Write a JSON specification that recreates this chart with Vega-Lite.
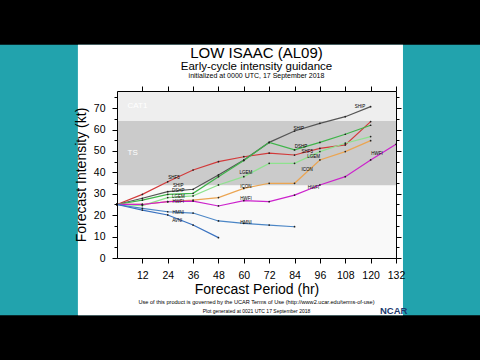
{
  "$schema": "https://vega.github.io/schema/vega-lite/v6.json",
  "width": 279,
  "height": 167,
  "autosize": {"type": "none"},
  "padding": {"left": 117, "top": 91, "right": 84, "bottom": 102},
  "background": "#000000",
  "config": {
    "view": {"stroke": null},
    "font": "Liberation Sans",
    "axis": {
      "grid": false,
      "domainColor": "#000000", "domainWidth": 1,
      "tickColor": "#000000", "tickWidth": 1,
      "labelFont": "Liberation Sans", "labelFontSize": 10.5, "labelColor": "#000000",
      "labelOverlap": false, "labelBound": false, "labelFlush": false,
      "titleFont": "Liberation Sans", "titleFontSize": 14, "titleFontWeight": "normal", "titleColor": "#000000"
    }
  },
  "datasets": {
    "forecasts": [
      {"model": "SHF5", "hour": 0, "kt": 25}, {"model": "SHF5", "hour": 12, "kt": 29.7}, {"model": "SHF5", "hour": 24, "kt": 35.6}, {"model": "SHF5", "hour": 36, "kt": 41.1}, {"model": "SHF5", "hour": 48, "kt": 45}, {"model": "SHF5", "hour": 60, "kt": 47.3}, {"model": "SHF5", "hour": 72, "kt": 49}, {"model": "SHF5", "hour": 84, "kt": 48.1}, {"model": "SHF5", "hour": 96, "kt": 51.2}, {"model": "SHF5", "hour": 108, "kt": 52.8}, {"model": "SHF5", "hour": 120, "kt": 63.7},
      {"model": "SHIP", "hour": 0, "kt": 25}, {"model": "SHIP", "hour": 12, "kt": 27.9}, {"model": "SHIP", "hour": 24, "kt": 31}, {"model": "SHIP", "hour": 36, "kt": 32.1}, {"model": "SHIP", "hour": 48, "kt": 38.8}, {"model": "SHIP", "hour": 60, "kt": 45.8}, {"model": "SHIP", "hour": 72, "kt": 54}, {"model": "SHIP", "hour": 84, "kt": 59.3}, {"model": "SHIP", "hour": 96, "kt": 62.9}, {"model": "SHIP", "hour": 108, "kt": 66}, {"model": "SHIP", "hour": 120, "kt": 70.7},
      {"model": "DSHP", "hour": 0, "kt": 25}, {"model": "DSHP", "hour": 12, "kt": 27}, {"model": "DSHP", "hour": 24, "kt": 29.7}, {"model": "DSHP", "hour": 36, "kt": 30.2}, {"model": "DSHP", "hour": 48, "kt": 38}, {"model": "DSHP", "hour": 60, "kt": 45.5}, {"model": "DSHP", "hour": 72, "kt": 54}, {"model": "DSHP", "hour": 84, "kt": 50.5}, {"model": "DSHP", "hour": 96, "kt": 54}, {"model": "DSHP", "hour": 108, "kt": 57.8}, {"model": "DSHP", "hour": 120, "kt": 62},
      {"model": "LGEM", "hour": 0, "kt": 25}, {"model": "LGEM", "hour": 12, "kt": 24.5}, {"model": "LGEM", "hour": 24, "kt": 28.2}, {"model": "LGEM", "hour": 36, "kt": 29}, {"model": "LGEM", "hour": 48, "kt": 34.1}, {"model": "LGEM", "hour": 60, "kt": 38}, {"model": "LGEM", "hour": 72, "kt": 44.2}, {"model": "LGEM", "hour": 84, "kt": 44.2}, {"model": "LGEM", "hour": 96, "kt": 49.7}, {"model": "LGEM", "hour": 108, "kt": 53.6}, {"model": "LGEM", "hour": 120, "kt": 56.7},
      {"model": "ICON", "hour": 0, "kt": 25}, {"model": "ICON", "hour": 12, "kt": 25}, {"model": "ICON", "hour": 24, "kt": 26.3}, {"model": "ICON", "hour": 36, "kt": 27}, {"model": "ICON", "hour": 48, "kt": 28.2}, {"model": "ICON", "hour": 60, "kt": 32.5}, {"model": "ICON", "hour": 72, "kt": 34.9}, {"model": "ICON", "hour": 84, "kt": 34.9}, {"model": "ICON", "hour": 96, "kt": 45.8}, {"model": "ICON", "hour": 108, "kt": 49.7}, {"model": "ICON", "hour": 120, "kt": 54.8},
      {"model": "HWFI", "hour": 0, "kt": 25}, {"model": "HWFI", "hour": 12, "kt": 25}, {"model": "HWFI", "hour": 24, "kt": 26.3}, {"model": "HWFI", "hour": 36, "kt": 26.6}, {"model": "HWFI", "hour": 48, "kt": 24.3}, {"model": "HWFI", "hour": 60, "kt": 26.8}, {"model": "HWFI", "hour": 72, "kt": 26.3}, {"model": "HWFI", "hour": 84, "kt": 29.4}, {"model": "HWFI", "hour": 96, "kt": 34.1}, {"model": "HWFI", "hour": 108, "kt": 38}, {"model": "HWFI", "hour": 120, "kt": 45.8}, {"model": "HWFI", "hour": 132, "kt": 53.1},
      {"model": "HMNI", "hour": 0, "kt": 25}, {"model": "HMNI", "hour": 12, "kt": 23.2}, {"model": "HMNI", "hour": 24, "kt": 21.6}, {"model": "HMNI", "hour": 36, "kt": 21}, {"model": "HMNI", "hour": 48, "kt": 17.3}, {"model": "HMNI", "hour": 60, "kt": 16.2}, {"model": "HMNI", "hour": 72, "kt": 15.4}, {"model": "HMNI", "hour": 84, "kt": 14.6},
      {"model": "AVNI", "hour": 0, "kt": 25}, {"model": "AVNI", "hour": 12, "kt": 22.4}, {"model": "AVNI", "hour": 24, "kt": 20.1}, {"model": "AVNI", "hour": 36, "kt": 15.4}, {"model": "AVNI", "hour": 48, "kt": 9.5}
    ],
    "lineLabels": [
      {"model": "SHF5", "hour": 27, "kt": 37.5},
      {"model": "SHIP", "hour": 29, "kt": 33.8},
      {"model": "DSHP", "hour": 29, "kt": 31.2},
      {"model": "LGEM", "hour": 29, "kt": 28.6},
      {"model": "HWFI", "hour": 29, "kt": 26},
      {"model": "HMNI", "hour": 29, "kt": 21},
      {"model": "AVNI", "hour": 28.5, "kt": 17.4},
      {"model": "LGEM", "hour": 61, "kt": 39.5},
      {"model": "ICON", "hour": 61, "kt": 33},
      {"model": "HWFI", "hour": 61, "kt": 27.5},
      {"model": "HMNI", "hour": 61, "kt": 16.2},
      {"model": "SHIP", "hour": 86, "kt": 60.3},
      {"model": "DSHP", "hour": 87, "kt": 51.8},
      {"model": "SHF5", "hour": 90, "kt": 49.5},
      {"model": "LGEM", "hour": 93, "kt": 47},
      {"model": "ICON", "hour": 90, "kt": 41},
      {"model": "HWFI", "hour": 93, "kt": 32.5},
      {"model": "SHIP", "hour": 115, "kt": 70.5},
      {"model": "HWFI", "hour": 123, "kt": 48.5}
    ],
    "zones": [
      {"zone": "below", "lo": 0, "hi": 34},
      {"zone": "TS", "lo": 34, "hi": 64},
      {"zone": "CAT1", "lo": 64, "hi": 78}
    ],
    "zoneNames": [
      {"zone": "CAT1", "kt": 71},
      {"zone": "TS", "kt": 49}
    ]
  },
  "layer": [
    {
      "data": {"values": [{}]},
      "mark": {"type": "rect", "color": "#22a3ad"},
      "encoding": {
        "x": {"datum": -55.4, "type": "quantitative", "scale": {"domain": [0, 132], "nice": false, "zero": false}, "axis": null},
        "x2": {"datum": 171.8},
        "y": {"datum": 99.6, "type": "quantitative", "scale": {"domain": [0, 78], "nice": false, "zero": false}, "axis": null},
        "y2": {"datum": -26.7}
      }
    },
    {
      "data": {"values": [{}]},
      "mark": {"type": "rect", "color": "#ffffff"},
      "encoding": {
        "x": {"datum": -18.5, "type": "quantitative", "scale": {"domain": [0, 132], "nice": false, "zero": false}, "axis": null},
        "x2": {"datum": 135.3},
        "y": {"datum": 99.6, "type": "quantitative", "scale": {"domain": [0, 78], "nice": false, "zero": false}, "axis": null},
        "y2": {"datum": -26.7}
      }
    },
    {
      "data": {"name": "zones"},
      "mark": {"type": "rect"},
      "encoding": {
        "x": {"datum": 0, "type": "quantitative", "scale": {"domain": [0, 132], "nice": false, "zero": false}, "axis": null},
        "x2": {"datum": 132},
        "y": {"field": "lo", "type": "quantitative", "scale": {"domain": [0, 78], "nice": false, "zero": false}, "axis": null},
        "y2": {"field": "hi"},
        "color": {"field": "zone", "type": "nominal", "scale": {"domain": ["below", "TS", "CAT1"], "range": ["#f9f9f9", "#cbcbcb", "#eeeeee"]}, "legend": null}
      }
    },
    {
      "data": {"name": "zoneNames"},
      "mark": {"type": "text", "align": "left", "baseline": "middle", "fontSize": 8, "color": "#ffffff", "font": "Liberation Sans"},
      "encoding": {
        "x": {"datum": 5, "type": "quantitative", "scale": {"domain": [0, 132], "nice": false, "zero": false}, "axis": null},
        "y": {"field": "kt", "type": "quantitative", "scale": {"domain": [0, 78], "nice": false, "zero": false}, "axis": null},
        "text": {"field": "zone"}
      }
    },
    {
      "data": {"name": "forecasts"},
      "mark": {"type": "line"},
      "encoding": {
        "x": {"field": "hour", "type": "quantitative", "scale": {"domain": [0, 132], "nice": false, "zero": false},
              "axis": {"orient": "bottom", "zindex": 2, "values": [12, 24, 36, 48, 60, 72, 84, 96, 108, 120, 132], "tickSize": 5, "labelPadding": 7, "labelOverlap": false, "title": "Forecast Period (hr)", "titlePadding": 2}},
        "y": {"field": "kt", "type": "quantitative", "scale": {"domain": [0, 78], "nice": false, "zero": false},
              "axis": {"orient": "left", "zindex": 2, "values": [0, 5, 10, 15, 20, 25, 30, 35, 40, 45, 50, 55, 60, 65, 70, 75], "labelExpr": "datum.value % 10 === 0 ? datum.label : ''", "tickSize": {"condition": {"test": "datum.value % 10 === 0", "value": 5}, "value": 3}, "labelPadding": 7, "labelOverlap": false, "title": "Forecast Intensity (kt)", "titlePadding": 5}},
        "color": {"field": "model", "type": "nominal", "scale": {"domain": ["SHF5", "SHIP", "DSHP", "LGEM", "ICON", "HWFI", "HMNI", "AVNI"], "range": ["#d23a3a", "#555555", "#3fb54a", "#8ee28e", "#eba552", "#cc22cc", "#4b86c6", "#3a72c0"]}, "legend": null},
        "strokeWidth": {"field": "model", "type": "nominal", "scale": {"domain": ["SHF5", "SHIP", "DSHP", "LGEM", "ICON", "HWFI", "HMNI", "AVNI"], "range": [1.2, 1.2, 1.2, 2.2, 1.4, 1.2, 1.2, 1.2]}, "legend": null}
      }
    },
    {
      "data": {"name": "forecasts"},
      "mark": {"type": "point", "filled": true, "size": 3, "color": "#222222", "opacity": 1},
      "encoding": {
        "x": {"field": "hour", "type": "quantitative", "scale": {"domain": [0, 132], "nice": false, "zero": false},
              "axis": {"orient": "top", "zindex": 2, "values": [12, 24, 36, 48, 60, 72, 84, 96, 108, 120, 132], "tickSize": 5, "labels": false, "title": null}},
        "y": {"field": "kt", "type": "quantitative", "scale": {"domain": [0, 78], "nice": false, "zero": false},
              "axis": {"orient": "right", "zindex": 2, "values": [0, 5, 10, 15, 20, 25, 30, 35, 40, 45, 50, 55, 60, 65, 70, 75], "tickSize": {"condition": {"test": "datum.value % 10 === 0", "value": 5}, "value": 3}, "labels": false, "title": null}}
      }
    },
    {
      "data": {"name": "lineLabels"},
      "mark": {"type": "text", "fontSize": 4.5, "color": "#000000", "font": "Liberation Sans", "align": "center", "baseline": "middle"},
      "encoding": {
        "x": {"field": "hour", "type": "quantitative", "scale": {"domain": [0, 132], "nice": false, "zero": false}, "axis": null},
        "y": {"field": "kt", "type": "quantitative", "scale": {"domain": [0, 78], "nice": false, "zero": false}, "axis": null},
        "text": {"field": "model"}
      }
    },
    {
      "data": {"values": [{}]},
      "mark": {"type": "text", "text": "LOW ISAAC (AL09)", "fontSize": 15, "align": "center", "baseline": "alphabetic", "color": "#000000", "font": "Liberation Sans"},
      "encoding": {
        "x": {"datum": 66, "type": "quantitative", "scale": {"domain": [0, 132], "nice": false, "zero": false}, "axis": null},
        "y": {"datum": 93.4, "type": "quantitative", "scale": {"domain": [0, 78], "nice": false, "zero": false}, "axis": null}
      }
    },
    {
      "data": {"values": [{}]},
      "mark": {"type": "text", "text": "Early-cycle intensity guidance", "fontSize": 11.5, "align": "center", "baseline": "alphabetic", "color": "#000000", "font": "Liberation Sans"},
      "encoding": {
        "x": {"datum": 66, "type": "quantitative", "scale": {"domain": [0, 132], "nice": false, "zero": false}, "axis": null},
        "y": {"datum": 87.8, "type": "quantitative", "scale": {"domain": [0, 78], "nice": false, "zero": false}, "axis": null}
      }
    },
    {
      "data": {"values": [{}]},
      "mark": {"type": "text", "text": "initialized at 0000 UTC, 17 September 2018", "fontSize": 7, "align": "center", "baseline": "alphabetic", "color": "#000000", "font": "Liberation Sans"},
      "encoding": {
        "x": {"datum": 66, "type": "quantitative", "scale": {"domain": [0, 132], "nice": false, "zero": false}, "axis": null},
        "y": {"datum": 84.1, "type": "quantitative", "scale": {"domain": [0, 78], "nice": false, "zero": false}, "axis": null}
      }
    },
    {
      "data": {"values": [{}]},
      "mark": {"type": "text", "text": "Use of this product is governed by the UCAR Terms of Use (http://www2.ucar.edu/terms-of-use)", "fontSize": 5.6, "align": "center", "baseline": "alphabetic", "color": "#000000", "font": "Liberation Sans"},
      "encoding": {
        "x": {"datum": 66, "type": "quantitative", "scale": {"domain": [0, 132], "nice": false, "zero": false}, "axis": null},
        "y": {"datum": -21.5, "type": "quantitative", "scale": {"domain": [0, 78], "nice": false, "zero": false}, "axis": null}
      }
    },
    {
      "data": {"values": [{}]},
      "mark": {"type": "text", "text": "Plot generated at 0021 UTC   17 September 2018", "fontSize": 5, "align": "center", "baseline": "alphabetic", "color": "#000000", "font": "Liberation Sans"},
      "encoding": {
        "x": {"datum": 66, "type": "quantitative", "scale": {"domain": [0, 132], "nice": false, "zero": false}, "axis": null},
        "y": {"datum": -25.9, "type": "quantitative", "scale": {"domain": [0, 78], "nice": false, "zero": false}, "axis": null}
      }
    },
    {
      "data": {"values": [{}]},
      "mark": {"type": "text", "text": "NCAR", "fontSize": 9.5, "fontWeight": "bold", "align": "left", "baseline": "alphabetic", "color": "#1b3a6e", "font": "Liberation Sans"},
      "encoding": {
        "x": {"datum": 124.4, "type": "quantitative", "scale": {"domain": [0, 132], "nice": false, "zero": false}, "axis": null},
        "y": {"datum": -26.3, "type": "quantitative", "scale": {"domain": [0, 78], "nice": false, "zero": false}, "axis": null}
      }
    }
  ],
  "resolve": {
    "scale": {"color": "independent", "strokeWidth": "independent"},
    "axis": {"x": "independent", "y": "independent"}
  }
}
